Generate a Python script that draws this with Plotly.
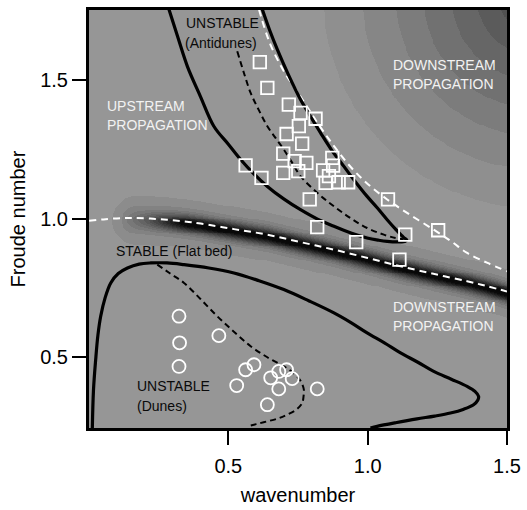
import numpy as np
import plotly.graph_objects as go

# ---------------- data ----------------
# thick solid loop bounding the antidune instability region (left branch down to tip, then right branch back up)
anti_x = [0.287, 0.320, 0.353, 0.400, 0.448, 0.500, 0.544, 0.590, 0.640, 0.700, 0.759, 0.820, 0.879, 0.940,
          0.998, 1.040, 1.070, 1.105, 1.135, 1.140, 1.129, 1.100, 1.070, 1.035, 0.998, 0.955, 0.914, 0.870,
          0.831, 0.795, 0.759, 0.715, 0.676, 0.648, 0.622]
anti_y = [1.754, 1.650, 1.549, 1.440, 1.333, 1.268, 1.213, 1.163, 1.116, 1.070, 1.032, 0.998, 0.972, 0.948,
          0.930, 0.922, 0.918, 0.916, 0.918, 0.924, 0.932, 0.962, 0.996, 1.038, 1.080, 1.134, 1.189, 1.248,
          1.309, 1.368, 1.429, 1.520, 1.609, 1.680, 1.754]

# dashed black line inside the antidune region
antid_x = [0.532, 0.556, 0.580, 0.610, 0.640, 0.670, 0.699, 0.730, 0.759, 0.819, 0.879, 0.938, 0.998, 1.058, 1.100, 1.129]
antid_y = [1.603, 1.525, 1.453, 1.390, 1.333, 1.290, 1.249, 1.200, 1.153, 1.093, 1.044, 1.002, 0.966, 0.942, 0.930, 0.925]

# thick solid loop bounding the dune instability region
dune_x = [0.012, 0.016, 0.024, 0.032, 0.042, 0.058, 0.078, 0.105, 0.138, 0.180, 0.222, 0.280, 0.341, 0.430, 0.520,
          0.610, 0.699, 0.790, 0.879, 0.940, 0.998, 1.060, 1.118, 1.180, 1.237, 1.300, 1.357, 1.385, 1.398, 1.395,
          1.380, 1.345, 1.297, 1.240, 1.177, 1.100, 1.034, 1.010]
dune_y = [0.245, 0.380, 0.492, 0.580, 0.648, 0.715, 0.768, 0.802, 0.822, 0.836, 0.840, 0.840, 0.834, 0.822, 0.804,
          0.776, 0.744, 0.703, 0.660, 0.625, 0.588, 0.552, 0.516, 0.482, 0.449, 0.421, 0.395, 0.377, 0.359, 0.345,
          0.329, 0.313, 0.299, 0.288, 0.278, 0.264, 0.251, 0.245]

# dashed black line inside the dune region
duned_x = [0.245, 0.290, 0.341, 0.400, 0.460, 0.520, 0.580, 0.640, 0.699, 0.730, 0.747, 0.762, 0.771, 0.770, 0.765, 0.745, 0.711, 0.680, 0.640, 0.600, 0.568]
duned_y = [0.834, 0.803, 0.768, 0.710, 0.648, 0.592, 0.540, 0.500, 0.467, 0.446, 0.431, 0.410, 0.383, 0.360, 0.335, 0.312, 0.293, 0.280, 0.269, 0.259, 0.251]

# white dashed lines
wup_x = [0.610, 0.650, 0.700, 0.759, 0.820, 0.880, 0.940, 1.000, 1.070, 1.150, 1.237, 1.300, 1.357, 1.430, 1.500]
wup_y = [1.754, 1.630, 1.530, 1.440, 1.345, 1.260, 1.185, 1.125, 1.069, 1.015, 0.960, 0.918, 0.876, 0.840, 0.810]

wlo_x = [0.000, 0.060, 0.120, 0.162, 0.220, 0.281, 0.340, 0.401, 0.520, 0.640, 0.760, 0.879, 1.000, 1.118, 1.240, 1.357, 1.430, 1.500]
wlo_y = [0.992, 0.998, 1.002, 1.002, 1.000, 0.996, 0.990, 0.982, 0.962, 0.942, 0.915, 0.888, 0.858, 0.828, 0.800, 0.774, 0.756, 0.737]

# experimental points
sq_x = [0.613, 0.640, 0.717, 0.759, 0.813, 0.753, 0.709, 0.765, 0.697, 0.738, 0.780, 0.562, 0.873, 0.876, 0.697,
        0.751, 0.840, 0.861, 0.849, 0.896, 0.930, 0.619, 0.792, 1.073, 0.819, 1.135, 1.253, 0.959, 1.114]
sq_y = [1.564, 1.471, 1.411, 1.381, 1.360, 1.333, 1.305, 1.270, 1.234, 1.207, 1.201, 1.192, 1.219, 1.191, 1.165,
        1.171, 1.174, 1.153, 1.129, 1.131, 1.131, 1.147, 1.069, 1.069, 0.969, 0.942, 0.958, 0.915, 0.852]

ci_x = [0.323, 0.325, 0.323, 0.466, 0.592, 0.562, 0.530, 0.652, 0.681, 0.709, 0.729, 0.681, 0.819, 0.640]
ci_y = [0.648, 0.552, 0.467, 0.578, 0.473, 0.455, 0.398, 0.426, 0.449, 0.455, 0.423, 0.386, 0.386, 0.329]

# background shading: gray levels of the concentric bands in the upper right corner
corner_center = (1.60, 1.80)
corner_radii = [0.76, 0.62, 0.50, 0.40, 0.30, 0.21, 0.13]
corner_grays = [143, 134, 124, 113, 102, 91, 80]
base_gray = 150

xticks = [0.5, 1.0, 1.5]
yticks = [0.5, 1.0, 1.5]
tick_text_x = ["0.5", "1.0", "1.5"]
tick_text_y = ["0.5", "1.0", "1.5"]

XR = [0.0, 1.5]
YR = [0.245, 1.752]

# ---------------- background field ----------------
gx = np.linspace(XR[0], XR[1], 450)
gy = np.linspace(YR[0], YR[1], 450)
X, Y = np.meshgrid(gx, gy)
Z = np.full(X.shape, float(base_gray))
R = np.hypot(X - corner_center[0], Y - corner_center[1])
for rad, g in zip(corner_radii, corner_grays):
    Z[R < rad] = g

yc = np.interp(X, wlo_x, wlo_y)
dy = Y - yc + 0.006
halo_r = np.sqrt(dy ** 2 + np.maximum(0, 0.17 - X) ** 2)
core_r = np.sqrt(dy ** 2 + (np.maximum(0, 0.32 - X) * 0.15) ** 2)
dark = (24 * np.exp(-(halo_r / 0.07) ** 2)
        + 125 * np.exp(-(core_r / 0.028) ** 2) * np.clip((X - 0.10) / 0.25, 0, 1))
dark = np.round(dark / 10) * 10
Z = Z - dark
Z = np.clip(Z, 8, 255)

fig = go.Figure()
fig.add_trace(go.Heatmap(x=gx, y=gy, z=Z, zmin=0, zmax=255,
                         colorscale=[[0, "rgb(0,0,0)"], [1, "rgb(255,255,255)"]],
                         showscale=False, hoverinfo="skip", zsmooth="best"))

# white dashed lines
fig.add_trace(go.Scatter(x=wlo_x, y=wlo_y, mode="lines", line=dict(color="white", width=2, dash="7px,5px", shape="spline")))
fig.add_trace(go.Scatter(x=wup_x, y=wup_y, mode="lines", line=dict(color="white", width=2, dash="7px,5px", shape="spline")))
# black dashed
fig.add_trace(go.Scatter(x=antid_x, y=antid_y, mode="lines", line=dict(color="black", width=2, dash="6px,4px", shape="spline")))
fig.add_trace(go.Scatter(x=duned_x, y=duned_y, mode="lines", line=dict(color="black", width=2, dash="6px,4px", shape="spline")))
# thick solid
fig.add_trace(go.Scatter(x=anti_x, y=anti_y, mode="lines", line=dict(color="black", width=3.2, shape="spline")))
fig.add_trace(go.Scatter(x=dune_x, y=dune_y, mode="lines", line=dict(color="black", width=3.2, shape="spline")))

# points
fig.add_trace(go.Scatter(x=sq_x, y=sq_y, mode="markers",
                         marker=dict(symbol="square-open", size=12.5, color="white", line=dict(width=1.8, color="white"))))
fig.add_trace(go.Scatter(x=ci_x, y=ci_y, mode="markers",
                         marker=dict(symbol="circle-open", size=13, color="white", line=dict(width=1.8, color="white"))))

fnt = "Liberation Sans, Arial, Helvetica, sans-serif"
labels = [
    ("UNSTABLE", 0.340, 1.706, "#0a0a0a"),
    ("(Antidunes)", 0.338, 1.634, "#0a0a0a"),
    ("UPSTREAM", 0.058, 1.405, "#f2f2f2"),
    ("PROPAGATION", 0.058, 1.336, "#f2f2f2"),
    ("DOWNSTREAM", 1.084, 1.555, "#f2f2f2"),
    ("PROPAGATION", 1.084, 1.487, "#f2f2f2"),
    ("DOWNSTREAM", 1.084, 0.682, "#f2f2f2"),
    ("PROPAGATION", 1.084, 0.612, "#f2f2f2"),
    ("STABLE (Flat bed)", 0.088, 0.882, "#0a0a0a"),
    ("UNSTABLE", 0.164, 0.395, "#0a0a0a"),
    ("(Dunes)", 0.164, 0.325, "#0a0a0a"),
]
for t, x, y, c in labels:
    fig.add_annotation(x=x, y=y, text=t, showarrow=False, xanchor="left", yanchor="middle",
                       font=dict(family=fnt, size=14, color=c))

fig.update_layout(
    width=527, height=510,
    margin=dict(l=89, r=20, t=10, b=82),
    paper_bgcolor="white", plot_bgcolor="rgb(150,150,150)",
    showlegend=False,
    font=dict(family=fnt, size=20, color="black"),
)
fig.update_xaxes(range=XR, tickvals=xticks, ticktext=tick_text_x, ticks="outside", ticklen=14, tickwidth=1.5,
                 tickcolor="black", showgrid=False, zeroline=False, showline=True, linewidth=3, linecolor="black",
                 mirror=True, tickfont=dict(size=20), ticklabelstandoff=4, automargin=False,
                 title=dict(text="wavenumber", font=dict(size=20), standoff=12))
fig.update_yaxes(range=YR, tickvals=yticks, ticktext=tick_text_y, ticks="outside", ticklen=14, tickwidth=1.5,
                 tickcolor="black", showgrid=False, zeroline=False, showline=True, linewidth=3, linecolor="black",
                 mirror=True, tickfont=dict(size=20), automargin=False,
                 title=dict(text="Froude number", font=dict(size=20), standoff=10))

fig.write_html("out.html")
